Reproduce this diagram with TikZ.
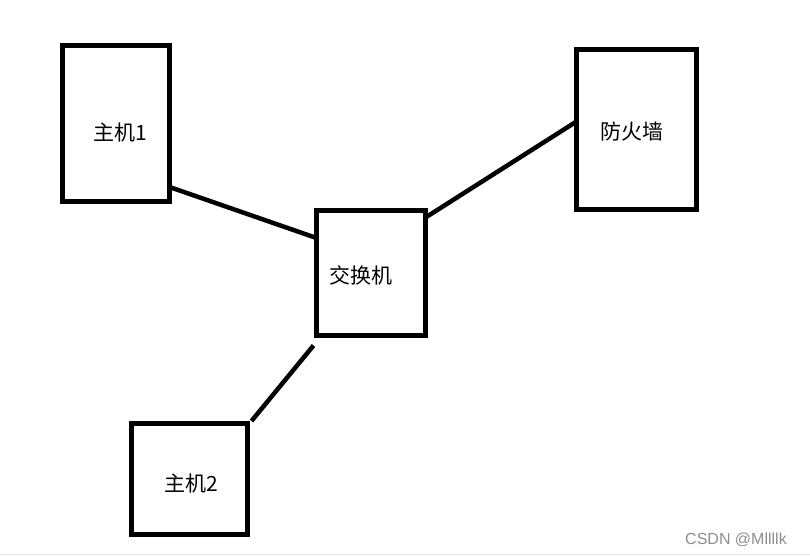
\documentclass[tikz,border=0pt]{standalone}
\usepackage{fontspec}
\setmainfont{Noto Sans CJK SC}
\newfontfamily\wzfont{Liberation Sans}
\usetikzlibrary{calc}
\definecolor{wzgrau}{HTML}{8E8E8E}
\definecolor{randgrau}{HTML}{E6E6E6}

\begin{document}
\begin{tikzpicture}[x=1pt,y=-1pt,
  kasten/.style={draw=black,line width=5pt,inner sep=0pt,outer sep=0pt},
  beschr/.style={inner sep=0pt,font=\fontsize{21pt}{23pt}\selectfont},
  leitung/.style={black,line width=4.5pt}]
  \useasboundingbox (0,0) rectangle (810,556);
  % Kaesten
  \node[kasten,minimum width=107pt,minimum height=156pt] (h1) at (116,123.5) {};
  \node[kasten,minimum width=120pt,minimum height=160pt] (fw) at (636.5,129.5) {};
  \node[kasten,minimum width=109pt,minimum height=125pt] (sw) at (371,273) {};
  \node[kasten,minimum width=116pt,minimum height=111pt] (h2) at (189.5,479) {};
  % Beschriftungen
  \node[beschr] (th1) at (120,133) {主机1};
  \node[beschr] (tfw) at (632,132) {防火墙};
  \node[beschr] (tsw) at (361,275) {交换机};
  \node[beschr] (th2) at (191,484) {主机2};
  % Leitungen
  \draw[leitung] ($(h1.south east)+(0,-14.5)$) -- ($(sw.north west)+(0,27.5)$);
  \draw[leitung] ($(sw.north east)+(0,7)$) -- ($(fw.north west)+(0,72)$);
  \draw[leitung] ($(sw.south west)+(-3,10)$) -- ($(h2.north east)+(4,-2.5)$);
  % Wasserzeichen
  \draw[randgrau,line width=1pt] (0,554.5) -- (810,554.5);
  \node[wzgrau,inner sep=0pt,font=\wzfont\fontsize{16pt}{18pt}\selectfont] (wz) at (736,540) {CSDN @Mllllk};
\end{tikzpicture}
\end{document}
